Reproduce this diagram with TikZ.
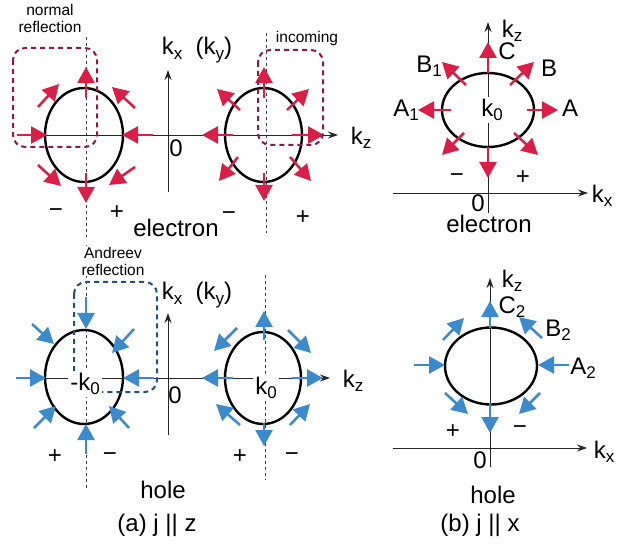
\documentclass[tikz,border=0pt]{standalone}
\usepackage{fontspec}
\setmainfont{Liberation Sans}
\usetikzlibrary{arrows.meta}

\definecolor{elred}{RGB}{218,30,72}
\definecolor{hlblue}{RGB}{58,138,205}
\definecolor{boxred}{RGB}{140,25,70}
\definecolor{boxblue}{RGB}{35,80,125}
\newcommand{\sub}[1]{\raisebox{-0.35ex}{\fontsize{17}{17}\selectfont #1}}

\begin{document}
\begin{tikzpicture}[x=1pt, y=-1pt,
	every node/.style={font=\fontsize{24}{28}\selectfont, inner sep=0pt},
	smalltext/.style={font=\fontsize{15.5}{17}\selectfont, align=center},
	fermi/.style={line width=2.4pt},
	axis/.style={line width=0.9pt, black!85, -{Stealth[length=10pt,width=7pt]}},
	cut/.style={line width=0.9pt, black!75, dash pattern=on 3pt off 3pt},
	earrow/.style={elred, line width=2.5pt, -{Triangle[length=16pt,width=17pt]}},
	harrow/.style={hlblue, line width=2.5pt, -{Triangle[length=16pt,width=17pt]}},
	regbox/.style={line width=2pt, dash pattern=on 5pt off 4pt, rounded corners=12pt},
	mask/.style={fill=white, inner sep=2pt}]
	\useasboundingbox (0,0) rectangle (627,548);
	% (a) electron
	\draw[cut] (86,37) -- (86,237);
	\draw[cut] (266,33) -- (266,233);
	\draw[axis] (168,192) -- (168,70);
	\draw[axis] (17,135) -- (338,135);
	\draw[fermi] (84,135) ellipse [x radius=39, y radius=47];
	\draw[fermi] (263.5,135) ellipse [x radius=38.5, y radius=47];
	\foreach \sx/\sy/\tx/\ty in {86/98/86/67, 38/107/59/84, 135/108/112/87, 17/135/47/135,
		153/135/122/135, 38/165/61/186, 135/167/109/185, 86/173/86/203,
		264/98/264/67, 240/110/217/89, 287/110/309/89, 233/135/202/135,
		292/135/324/135, 238/157/219/181, 290/157/311/181, 264/173/264/201}
		\draw[earrow] (\sx,\sy) -- (\tx,\ty);
	\draw[regbox, boxred] (13,48) rectangle (97,147);
	\draw[regbox, boxred] (258,50) rectangle (323,145);
	\node[smalltext] (normlbl) at (50,18) {normal\\reflection};
	\node[smalltext] (inclbl) at (307,38) {incoming};
	\node (kxa) at (197,50) {k\sub{x}\ \ (k\sub{y})};
	\node (kza) at (361,138) {k\sub{z}};
	\node (zeroa) at (176,148) {0};
	\node (ma1) at (56,213) {−};
	\node (pa1) at (117,213) {+};
	\node (ma2) at (229,216) {−};
	\node (pa2) at (303,218) {+};
	\node (elea) at (176,228) {electron};
	% (b) electron
	\draw[axis] (393,193) -- (588,193);
	\draw[axis] (488,213) -- (488,22);
	\draw[fermi] (488,110) ellipse [x radius=46, y radius=37];
	\foreach \sx/\sy/\tx/\ty in {488/73/488/42, 510/85/534/62, 466/85/442/62, 527/110/558/110,
		451/110/418/110, 464/133/442/155, 514/133/538/155, 488/147/488/178}
		\draw[earrow] (\sx,\sy) -- (\tx,\ty);
	\node[mask] (kob) at (492,110) {k\sub{0}};
	\node (kzb) at (512,31) {k\sub{z}};
	\node (kxb) at (602,196) {k\sub{x}};
	\node (zerob) at (478,203) {0};
	\node (cb) at (507,51) {C};
	\node (bb) at (549,68) {B};
	\node (b1b) at (429,66) {B\sub{1}};
	\node (ab) at (570,108) {A};
	\node (a1b) at (406,110) {A\sub{1}};
	\node (mb) at (457,178) {−};
	\node (pb) at (523,178) {+};
	\node (eleb) at (489,224) {electron};
	% (a) hole
	\draw[cut] (86,245) -- (86,490);
	\draw[cut] (265,275) -- (265,480);
	\draw[axis] (168,435) -- (168,313);
	\draw[axis] (17,378) -- (330,378);
	\draw[fermi] (84,377) ellipse [x radius=39, y radius=47];
	\draw[fermi] (263,378) ellipse [x radius=38, y radius=46];
	\foreach \sx/\sy/\tx/\ty in {86/297/86/329, 32/324/54/344, 134/329/112/353, 16/378/46/378,
		154/378/123/378, 34/428/56/406, 129/428/109/406, 86/454/86/424,
		264/340/264/311, 237/328/214/351, 288/330/311/353, 233/378/202/378,
		292/378/323/378, 240/425/216/404, 290/425/310/404, 264/423/264/446}
		\draw[harrow] (\sx,\sy) -- (\tx,\ty);
	\draw[regbox, boxblue] (74,282) rectangle (157,392);
	\node[smalltext, fill=white, inner sep=1pt] (andlbl) at (113,261) {Andreev\\reflection};
	\node[mask] (mkoc) at (85,384) {-k\sub{0}};
	\node[mask] (koc) at (266,388) {k\sub{0}};
	\node (kxc) at (197,295) {k\sub{x}\ \ (k\sub{y})};
	\node (kzc) at (353,381) {k\sub{z}};
	\node (zeroc) at (175,395) {0};
	\node (pc1) at (55,457) {+};
	\node (mc1) at (110,457) {−};
	\node (pc2) at (240,457) {+};
	\node (mc2) at (292,457) {−};
	\node (holec) at (163,490) {hole};
	\node (capa) at (157,525) {(a) j || z};
	% (b) hole
	\draw[axis] (393,448) -- (587,448);
	\draw[axis] (490,467) -- (490,278);
	\draw[fermi] (491,366) ellipse [x radius=46, y radius=38.5];
	\foreach \sx/\sy/\tx/\ty in {490/328/490/301, 443/340/464/318, 542/338/519/317, 414/365/445/365,
		569/365/538/365, 445/393/468/414, 540/393/519/414, 490/403/490/433}
		\draw[harrow] (\sx,\sy) -- (\tx,\ty);
	\node (kzd) at (512,281) {k\sub{z}};
	\node (kxd) at (604,452) {k\sub{x}};
	\node (zerod) at (480,460) {0};
	\node (c2d) at (512,307) {C\sub{2}};
	\node (b2d) at (558,330) {B\sub{2}};
	\node (a2d) at (583,368) {A\sub{2}};
	\node (pd) at (453,432) {+};
	\node (md) at (520,430) {−};
	\node (holed) at (493,495) {hole};
	\node (capb) at (480,525) {(b) j || x};
\end{tikzpicture}
\end{document}
